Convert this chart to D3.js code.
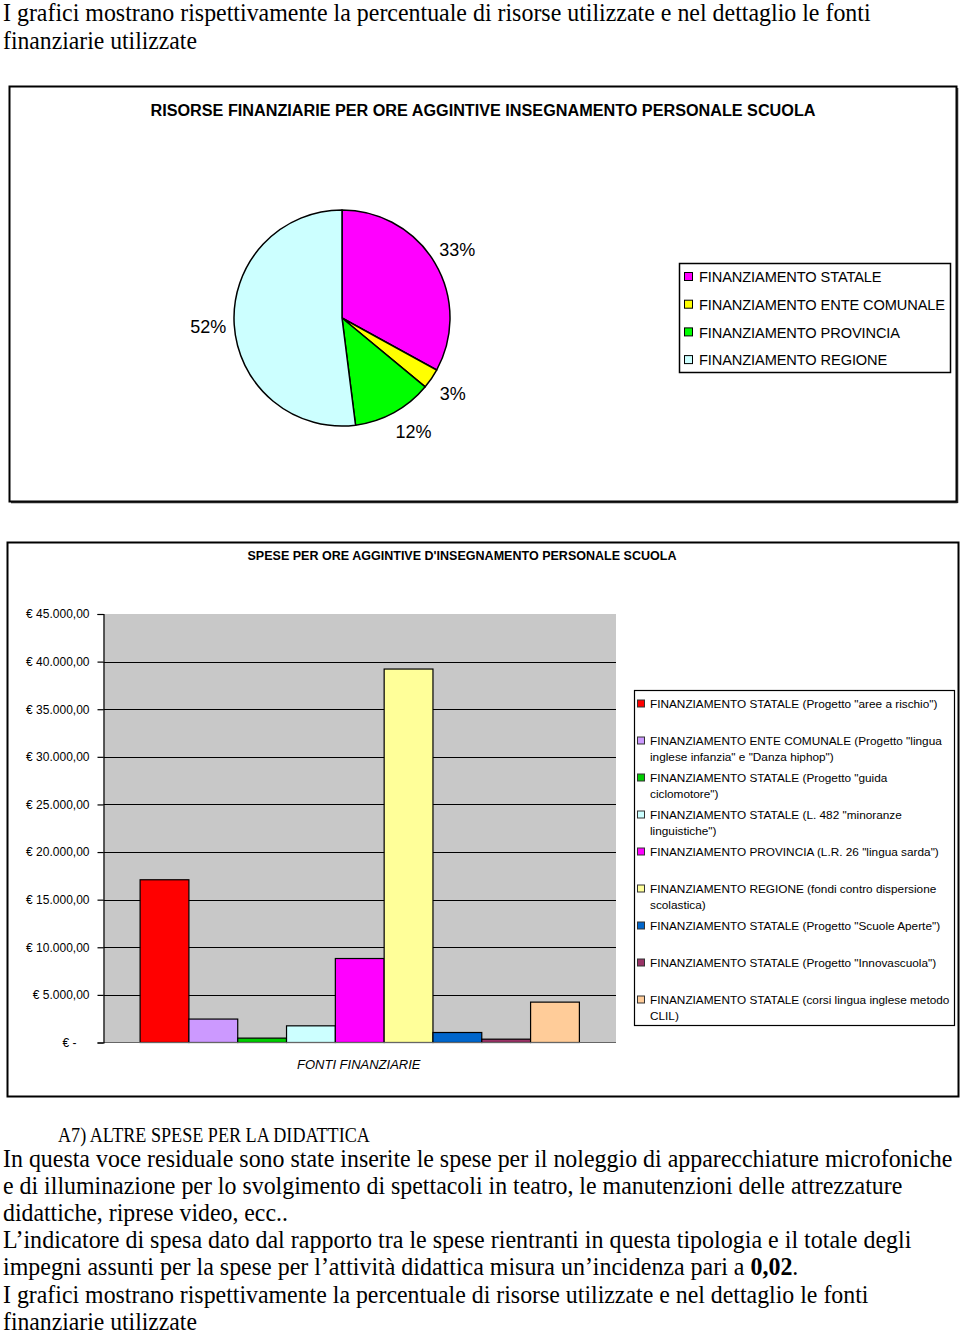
<!DOCTYPE html>
<html>
<head>
<meta charset="utf-8">
<script src="https://cdn.jsdelivr.net/npm/d3@7"></script>
<style>
  html, body { margin: 0; padding: 0; background: #fff; }
  svg { display: block; }
</style>
</head>
<body>
<svg id="page" width="960" height="1336"></svg>
<script>
// ---------- DATA ----------
const pieCategories = ["FINANZIAMENTO STATALE", "FINANZIAMENTO ENTE COMUNALE", "FINANZIAMENTO PROVINCIA", "FINANZIAMENTO REGIONE"];
const pieValues = [33, 3, 12, 52];
const pieColors = ["#FF00FF", "#FFFF00", "#00FF00", "#CCFFFF"];

const barSeries = [
  "FINANZIAMENTO STATALE (Progetto \"aree a rischio\")",
  "FINANZIAMENTO ENTE COMUNALE (Progetto \"lingua\ninglese infanzia\" e \"Danza hiphop\")",
  "FINANZIAMENTO STATALE (Progetto \"guida\nciclomotore\")",
  "FINANZIAMENTO STATALE (L. 482 \"minoranze\nlinguistiche\")",
  "FINANZIAMENTO PROVINCIA  (L.R. 26 \"lingua sarda\")",
  "FINANZIAMENTO REGIONE (fondi contro dispersione\nscolastica)",
  "FINANZIAMENTO STATALE (Progetto \"Scuole Aperte\")",
  "FINANZIAMENTO STATALE (Progetto \"Innovascuola\")",
  "FINANZIAMENTO STATALE (corsi lingua inglese metodo\nCLIL)"
];
const barValues = [17090, 2460, 460, 1750, 8820, 39220, 1050, 350, 4240];
const barColors = ["#FF0000", "#CC99FF", "#00CC00", "#CCFFFF", "#FF00FF", "#FFFF99", "#0066CC", "#993366", "#FFCC99"];
const yTicks = [0, 5000, 10000, 15000, 20000, 25000, 30000, 35000, 40000, 45000];

const pieTitle = "RISORSE FINANZIARIE PER ORE AGGINTIVE INSEGNAMENTO PERSONALE SCUOLA";
const barTitle = "SPESE PER ORE AGGINTIVE D'INSEGNAMENTO PERSONALE SCUOLA";
const xAxisTitle = "FONTI FINANZIARIE";

const topText = [
  "I grafici mostrano rispettivamente la percentuale di risorse utilizzate e nel dettaglio le fonti",
  "finanziarie utilizzate"
];
const sectionHeading = "A7) ALTRE SPESE PER LA DIDATTICA";
const bottomText = [
  "In questa voce residuale sono state inserite le spese per il noleggio di apparecchiature microfoniche",
  "e di illuminazione per lo svolgimento di spettacoli in teatro, le manutenzioni delle attrezzature",
  "didattiche, riprese video, ecc..",
  "L\u2019indicatore di spesa dato dal rapporto tra le spese rientranti in questa tipologia e il totale degli",
  "impegni assunti per la spese per l\u2019attivit\u00e0 didattica misura un\u2019incidenza pari a |0,02|.",
  "I grafici mostrano rispettivamente la percentuale di risorse utilizzate e nel dettaglio le fonti",
  "finanziarie utilizzate"
];

// ---------- DRAW ----------
const svg = d3.select("#page");
const SANS = "'Liberation Sans', Arial, sans-serif";
const SERIF = "'Liberation Serif', 'Times New Roman', serif";

function fitLine(sel, x0, y0, width) {
  const w = sel.node().getComputedTextLength();
  const s = w > 0 ? width / w : 1;
  sel.attr("x", 0).attr("y", 0).attr("transform", `translate(${x0},${y0}) scale(${s},1)`);
}
function fitText(sel, width) {
  sel.attr("textLength", width).attr("lengthAdjust", "spacingAndGlyphs");
}
function paragraphLine(str, x0, y0, size, width) {
  const tx = svg.append("text").attr("font-family", SERIF).attr("font-size", size).attr("fill", "#000");
  str.split("|").forEach((part, k) => {
    tx.append("tspan").attr("font-weight", k === 1 ? "bold" : null).text(part);
  });
  fitLine(tx, x0, y0, width);
}

// Top paragraph
const topWidths = [868, 194];
topText.forEach((t, i) => paragraphLine(t, 3, 21 + i * 27.5, 25, topWidths[i]));

// ---- PIE CHART ----
svg.append("rect").attr("x", 9.5).attr("y", 86.5).attr("width", 947).attr("height", 415)
  .attr("fill", "#fff").attr("stroke", "#000").attr("stroke-width", 2);
svg.append("line").attr("x1", 11).attr("x2", 957.5).attr("y1", 502.5).attr("y2", 502.5)
  .attr("stroke", "#222").attr("stroke-width", 1.5);
svg.append("line").attr("x1", 957.5).attr("x2", 957.5).attr("y1", 88).attr("y2", 503)
  .attr("stroke", "#222").attr("stroke-width", 1.5);

svg.append("text").attr("x", 483).attr("y", 116).attr("text-anchor", "middle")
  .attr("font-family", SANS).attr("font-weight", "bold").attr("font-size", 16)
  .text(pieTitle).call(fitText, 665);

const pcx = 342, pcy = 318, pr = 108;
const pie = d3.pie().sort(null).value(d => d)(pieValues);
const arc = d3.arc().innerRadius(0).outerRadius(pr);
const labelArc = d3.arc().innerRadius(134).outerRadius(134);
const pg = svg.append("g").attr("transform", `translate(${pcx},${pcy})`);
pg.selectAll("path").data(pie).join("path")
  .attr("d", arc).attr("fill", (d, i) => pieColors[i])
  .attr("stroke", "#000").attr("stroke-width", 1.5).attr("stroke-linejoin", "round");
pg.selectAll("text").data(pie).join("text")
  .attr("transform", d => {
    const c = labelArc.centroid({ startAngle: d.startAngle, endAngle: d.endAngle - (d.index === 2 ? 0.12 : 0) });
    return `translate(${c})`;
  })
  .attr("text-anchor", "middle").attr("dy", "0.35em")
  .attr("font-family", SANS).attr("font-size", 18)
  .text(d => d.data + "%");

// pie legend
svg.append("rect").attr("x", 679.5).attr("y", 263.5).attr("width", 271).attr("height", 109)
  .attr("fill", "#fff").attr("stroke", "#000").attr("stroke-width", 1.5);
const pl = svg.append("g");
pieCategories.forEach((c, i) => {
  const cy = 277 + i * 27.7;
  pl.append("rect").attr("x", 684.5).attr("y", cy - 4.5).attr("width", 8).attr("height", 8)
    .attr("fill", pieColors[i]).attr("stroke", "#000").attr("stroke-width", 1);
  pl.append("text").attr("x", 699).attr("y", cy).attr("dy", "0.35em")
    .attr("font-family", SANS).attr("font-size", 14.6).attr("letter-spacing", -0.1).text(c);
});

// ---- BAR CHART ----
svg.append("rect").attr("x", 7.5).attr("y", 542.5).attr("width", 951).attr("height", 554)
  .attr("fill", "#fff").attr("stroke", "#000").attr("stroke-width", 2);

svg.append("text").attr("x", 462).attr("y", 560).attr("text-anchor", "middle")
  .attr("font-family", SANS).attr("font-weight", "bold").attr("font-size", 13)
  .text(barTitle).call(fitText, 429);

const px0 = 103.5, px1 = 616, py0 = 614, py1 = 1042.5;
const y = d3.scaleLinear().domain([0, 45000]).range([py1, py0]);
const x = d3.scaleBand().domain(barSeries).range([px0, px1]).paddingInner(0).paddingOuter(0.75);

svg.append("rect").attr("x", px0).attr("y", py0).attr("width", px1 - px0).attr("height", py1 - py0)
  .attr("fill", "#C8C8C8");

svg.append("g").selectAll("line").data(yTicks.filter(v => v > 0 && v < 45000)).join("line")
  .attr("x1", px0).attr("x2", px1).attr("y1", d => Math.round(y(d)) + 0.5).attr("y2", d => Math.round(y(d)) + 0.5)
  .attr("stroke", "#000").attr("stroke-width", 1.2);

svg.append("g").selectAll("rect").data(barValues).join("rect")
  .attr("x", (d, i) => x(barSeries[i]))
  .attr("y", d => y(d))
  .attr("width", x.bandwidth())
  .attr("height", d => y(0) - y(d))
  .attr("fill", (d, i) => barColors[i])
  .attr("stroke", "#000").attr("stroke-width", 1.2);

svg.append("line").attr("x1", px0).attr("x2", px1).attr("y1", py1).attr("y2", py1)
  .attr("stroke", "#666").attr("stroke-width", 1.2);

const loc = d3.formatLocale({ decimal: ",", thousands: ".", grouping: [3], currency: ["\u20ac ", ""] });
const fmt = loc.format("$,.2f");
const yAxis = d3.axisLeft(y).tickValues(yTicks).tickSize(6).tickPadding(8)
  .tickFormat(v => v === 0 ? "\u20ac -" : fmt(v));
const ya = svg.append("g").attr("transform", `translate(${px0},0)`).call(yAxis);
ya.select(".domain").attr("stroke", "#000").attr("stroke-width", 1.2);
ya.selectAll(".tick line").attr("stroke", "#000").attr("stroke-width", 1.2);
ya.selectAll(".tick text").attr("font-family", SANS).attr("font-size", 12).attr("fill", "#000")
  .attr("dx", d => d === 0 ? -13 : 0);

svg.append("text").attr("x", (px0 + px1) / 2 - 1).attr("y", 1069).attr("text-anchor", "middle")
  .attr("font-family", SANS).attr("font-style", "italic").attr("font-size", 13)
  .text(xAxisTitle);

svg.append("rect").attr("x", 634.5).attr("y", 690.5).attr("width", 320).attr("height", 335)
  .attr("fill", "#fff").attr("stroke", "#000").attr("stroke-width", 1.2);
const bl = svg.append("g");
barSeries.forEach((s, i) => {
  const cy = 704 + i * 37;
  bl.append("rect").attr("x", 637.5).attr("y", cy - 4).attr("width", 7).attr("height", 7)
    .attr("fill", barColors[i]).attr("stroke", "#333").attr("stroke-width", 1);
  s.split("\n").forEach((line, j) => {
    bl.append("text").attr("x", 650).attr("y", cy + j * 16).attr("dy", "0.35em")
      .attr("font-family", SANS).attr("font-size", 11.8).text(line);
  });
});

// ---- BOTTOM TEXT ----
paragraphLine(sectionHeading, 58, 1142, 20, 312);
const bottomWidths = [950, 900, 285, 909, 796, 866, 194];
bottomText.forEach((t, i) => paragraphLine(t, 3, 1166.5 + i * 27.2, 25, bottomWidths[i]));
</script>
</body>
</html>
